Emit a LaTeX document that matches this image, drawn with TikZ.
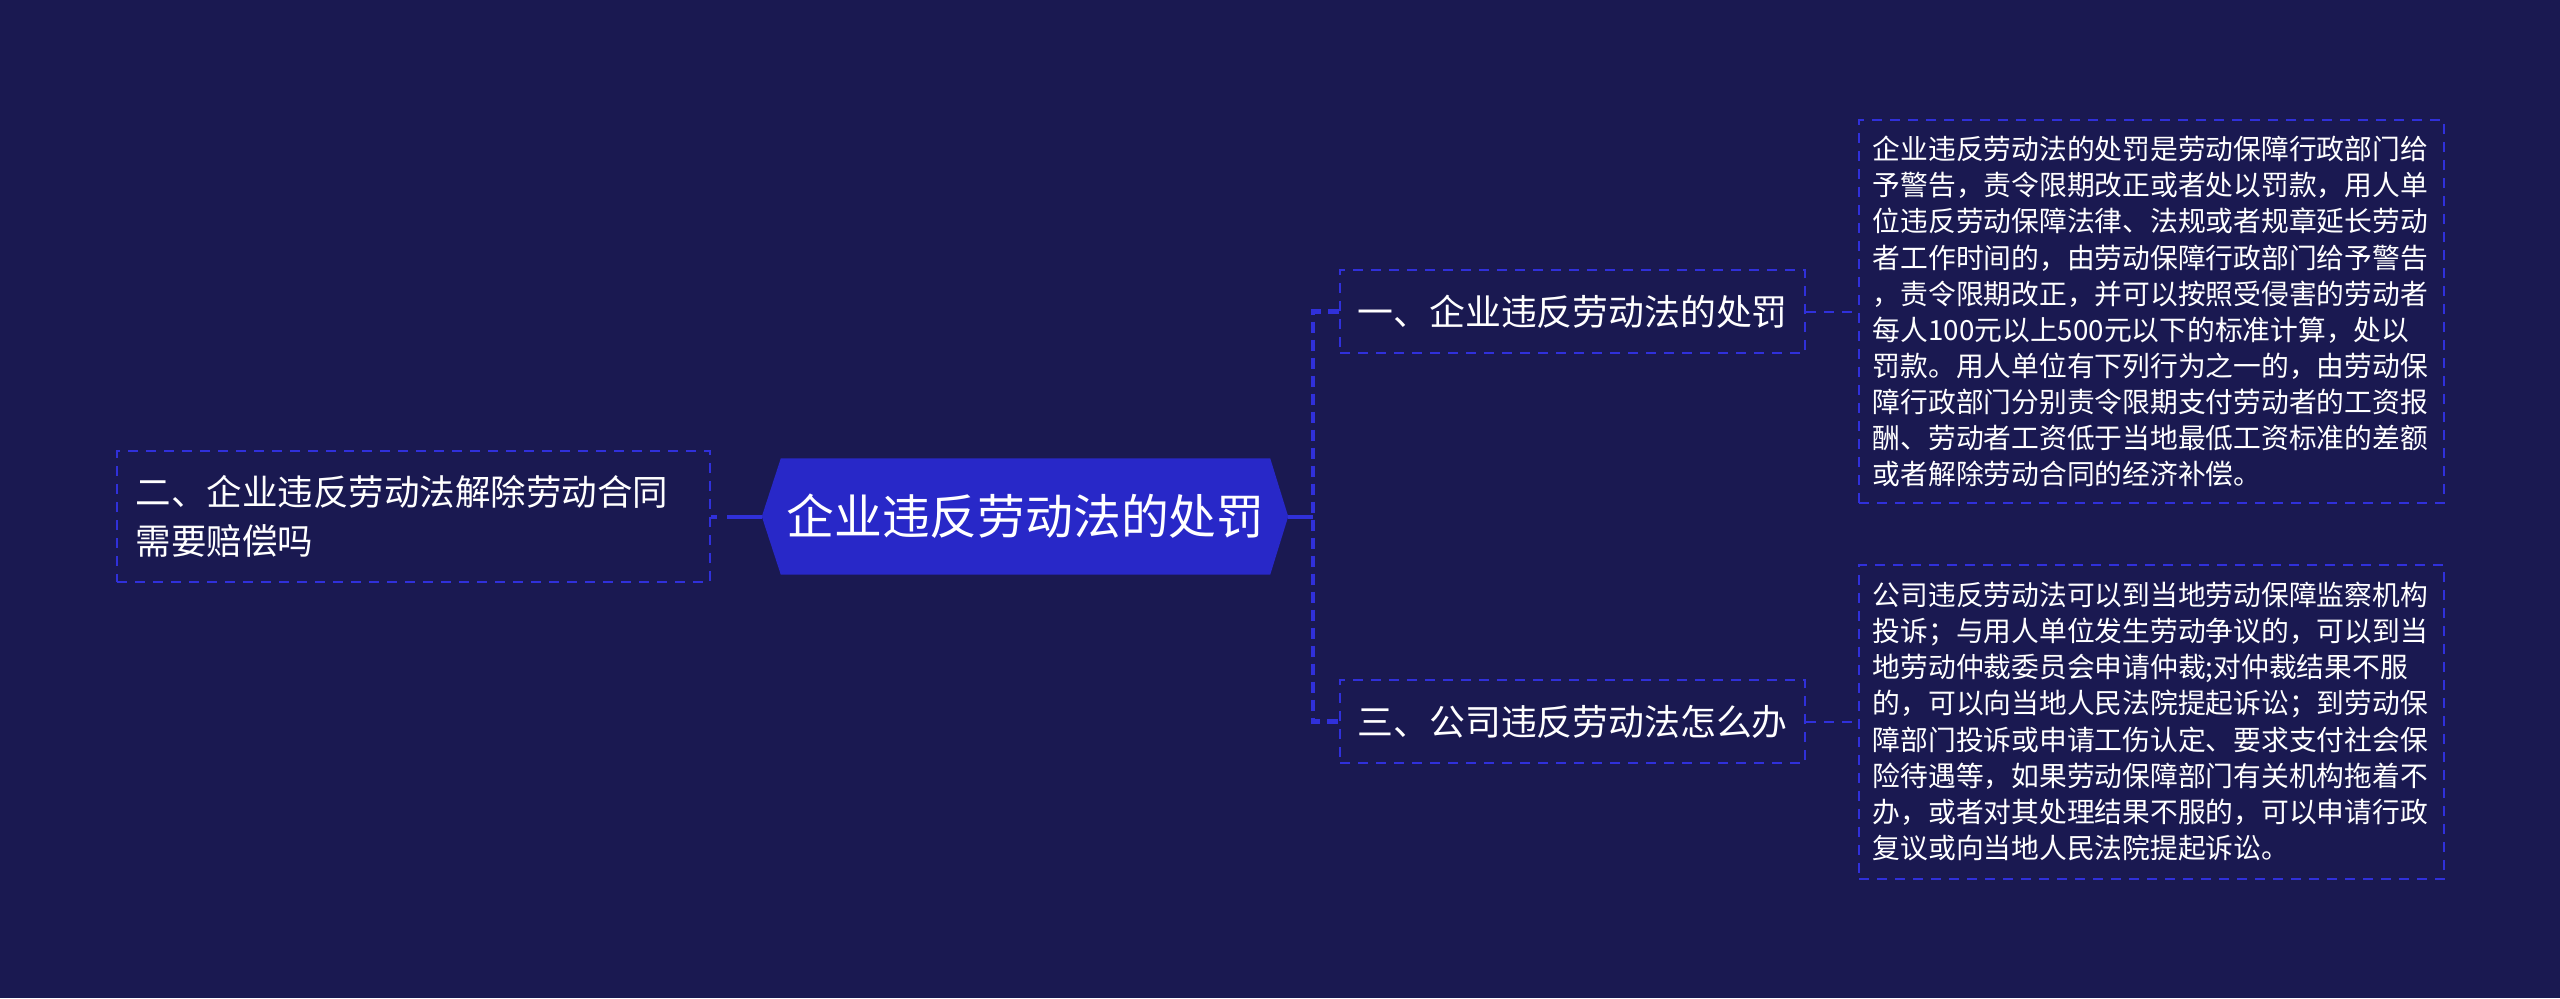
\documentclass[tikz,border=0pt]{standalone}
\usepackage{fontspec}
\setmainfont{Noto Sans CJK SC}
\usepackage{xcolor}
\usepackage{tikz}
\usetikzlibrary{positioning,backgrounds}
\definecolor{penalty_bg}{RGB}{26,25,81}
\definecolor{penalty_blue}{RGB}{40,40,200}
\definecolor{penalty_line}{RGB}{48,48,218}

\begin{document}
\begin{tikzpicture}[
      topic/.style={text width=48.8mm, align=center, minimum height=11.5mm, inner sep=0pt,
                    text=white, font=\fontsize{13.6pt}{16pt}\selectfont},
      sidebox/.style={draw=penalty_line, line width=0.2mm, dash pattern=on 1mm off 0.8mm,
                      text width=55.5mm, inner xsep=1.9mm, minimum height=13.1mm,
                      align=left, text=white, font=\fontsize{10.1pt}{13.9pt}\selectfont},
      branch/.style={draw=penalty_line, line width=0.2mm, dash pattern=on 1mm off 0.8mm,
                     text width=46.5mm, align=center, minimum height=8.3mm, inner sep=0pt,
                     text=white, font=\fontsize{10.2pt}{12pt}\selectfont},
      leaf/.style={draw=penalty_line, line width=0.2mm, dash pattern=on 1mm off 0.8mm,
                   text width=55.8mm, inner xsep=1.35mm, inner ysep=0.5mm,
                   align=left, text=white, font=\fontsize{7.9pt}{10.26pt}\selectfont},
      link/.style={penalty_line, line width=0.4mm},
      hublink/.style={penalty_line, line width=0.45mm, dash pattern=on 1.1mm off 0.7mm},
      leaflink/.style={penalty_line, line width=0.2mm, dash pattern=on 1mm off 0.8mm},
    ]
    \useasboundingbox (0,0) rectangle (256mm,-99.8mm);

    \node[topic] (main) at (102.55mm,-51.65mm) {企业违反劳动法的处罚};
    \coordinate (mainL) at ([xshift=-1.9mm]main.west);
    \coordinate (mainR) at ([xshift=1.8mm]main.east);
    \coordinate (hub)   at ([xshift=2.5mm]mainR);

    % left side
    \node[sidebox, left=7mm of main] (claim) {二、企业违反劳动法解除劳动合同\\需要赔偿吗};

    % right side: branches
    \node[branch, right=6.9mm of main, yshift=20.5mm]  (pen) {一、企业违反劳动法的处罚};
    \node[branch, right=6.9mm of main, yshift=-20.5mm] (act) {三、公司违反劳动法怎么办};

    % leaves
    \node[leaf, minimum height=38.3mm, right=5.2mm of pen] (penTxt)
      {企业违反劳动法的处罚是劳动保障行政部门给\\
       予警告，责令限期改正或者处以罚款，用人单\\
       位违反劳动保障法律、法规或者规章延长劳动\\
       者工作时间的，由劳动保障行政部门给予警告\\
       ，责令限期改正，并可以按照受侵害的劳动者\\
       每人100元以上500元以下的标准计算，处以\\
       罚款。用人单位有下列行为之一的，由劳动保\\
       障行政部门分别责令限期支付劳动者的工资报\\
       酬、劳动者工资低于当地最低工资标准的差额\\
       或者解除劳动合同的经济补偿。};
    \node[leaf, minimum height=31.4mm, right=5.2mm of act] (actTxt)
      {公司违反劳动法可以到当地劳动保障监察机构\\
       投诉；与用人单位发生劳动争议的，可以到当\\
       地劳动仲裁委员会申请仲裁;对仲裁结果不服\\
       的，可以向当地人民法院提起诉讼；到劳动保\\
       障部门投诉或申请工伤认定、要求支付社会保\\
       险待遇等，如果劳动保障部门有关机构拖着不\\
       办，或者对其处理结果不服的，可以申请行政\\
       复议或向当地人民法院提起诉讼。};

    \draw[link, dash pattern=on 0.6mm off 1mm on 4mm off 1mm] (claim.east) -- (mainL);
    \draw[link] (mainR) -- (hub);
    \draw[hublink] (pen.west) -| (hub) |- (act.west);
    \draw[leaflink] (pen.east) -- (pen.east -| penTxt.west);
    \draw[leaflink] (act.east) -- (act.east -| actTxt.west);

    % background and central shape
    \begin{pgfonlayer}{background}
      \fill[penalty_bg] (0,0) rectangle (256mm,-99.8mm);
      \fill[penalty_blue] (main.north west) -- (main.north east) -- (mainR)
        -- (main.south east) -- (main.south west) -- (mainL) -- cycle;
    \end{pgfonlayer}
  \end{tikzpicture}
\end{document}
